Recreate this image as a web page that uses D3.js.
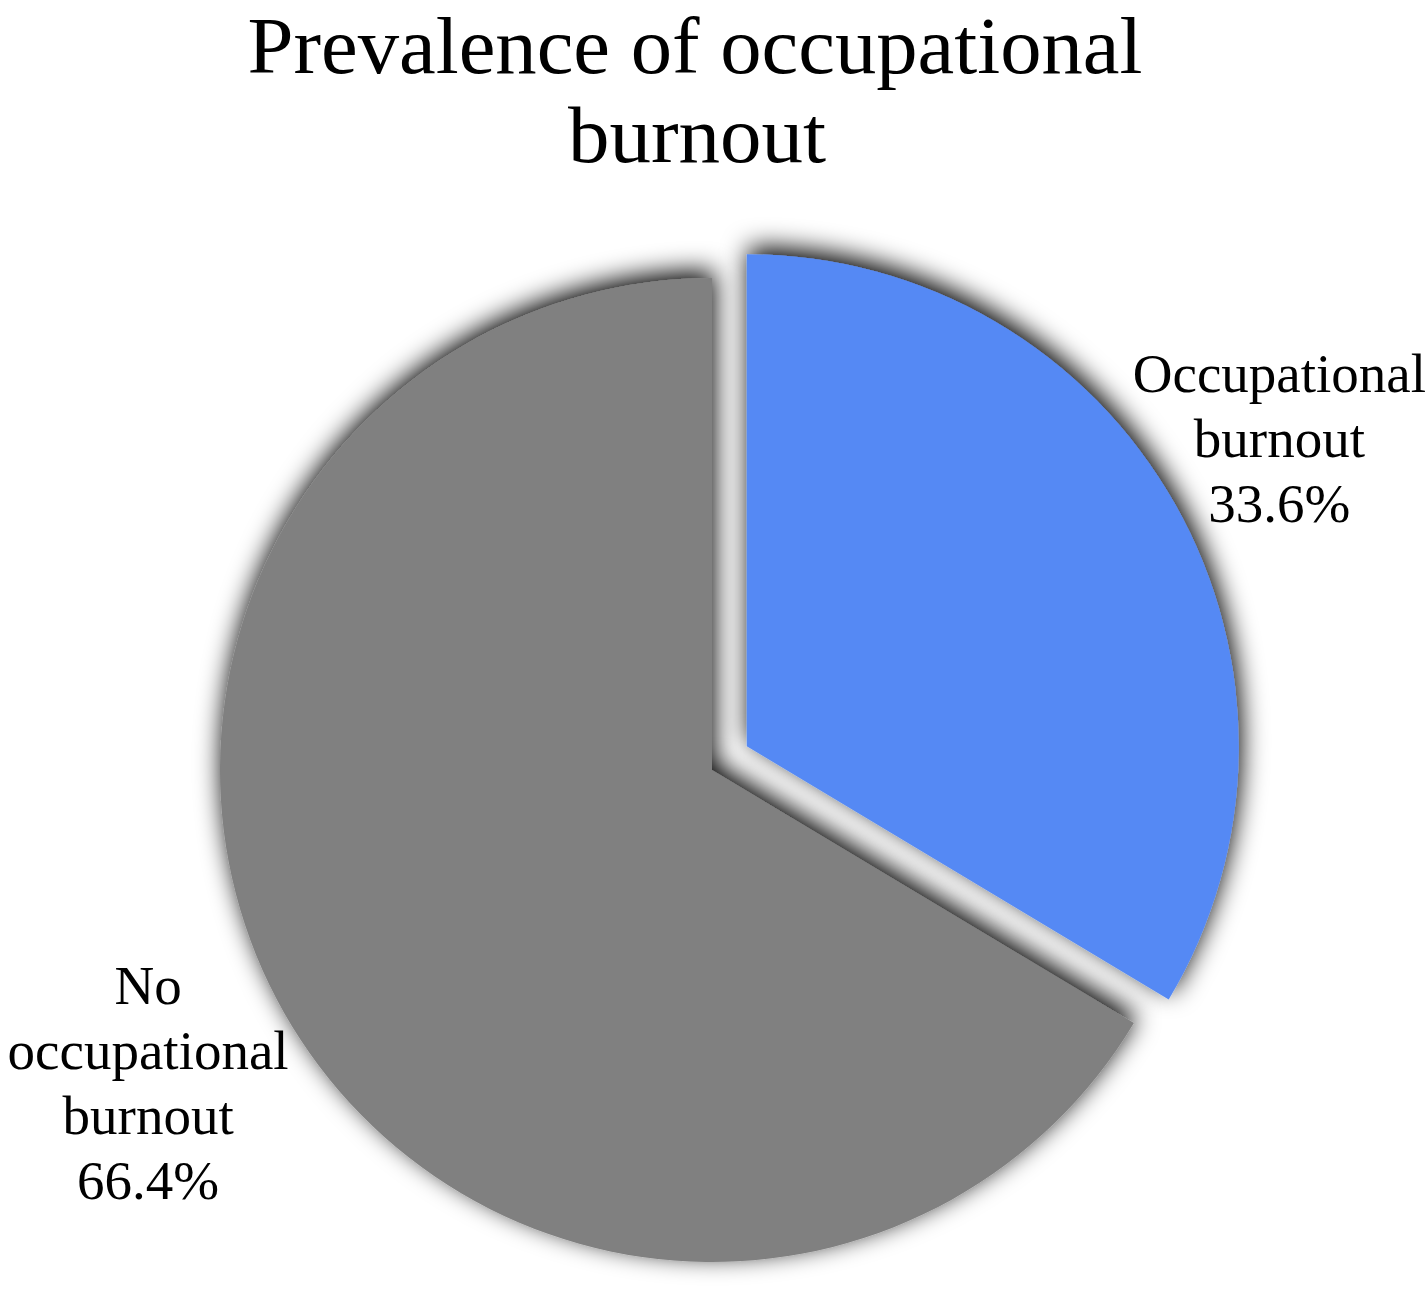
<!DOCTYPE html>
<html>
<head>
<meta charset="utf-8">
<script src="https://cdn.jsdelivr.net/npm/d3@7"></script>
<style>
  body { margin: 0; background: #fff; }
  text { font-family: "Liberation Serif", "Times New Roman", serif; fill: #000; }
</style>
</head>
<body>
<script>
const categories = ["Occupational burnout", "No occupational burnout"];
const labelLines = [["Occupational", "burnout", "33.6%"], ["No", "occupational", "burnout", "66.4%"]];
const values = [33.6, 66.4];
const colors = ["#5589f4", "#808080"];

const chart = {
    width: 1427,
    height: 1292,
    cx: 712,
    cy: 770,
    radius: 492,
    explode: 40,
    labelRadius: [612, 648],
    lineHeight: 65
}

let svg = d3.select("body")
    .append("svg")
    .attr("width", chart.width)
    .attr("height", chart.height);

// soft dark halo behind the slices
let defs = svg.append("defs");
let filter = defs.append("filter")
    .attr("id", "shadow")
    .attr("x", "-20%").attr("y", "-20%")
    .attr("width", "140%").attr("height", "140%");
filter.append("feGaussianBlur")
    .attr("in", "SourceAlpha")
    .attr("stdDeviation", 13)
    .attr("result", "blur");
filter.append("feOffset")
    .attr("in", "blur")
    .attr("dx", 2)
    .attr("dy", -7)
    .attr("result", "off");
filter.append("feComponentTransfer")
    .attr("in", "off")
    .attr("result", "dark")
    .append("feFuncA")
    .attr("type", "linear")
    .attr("slope", 1.0);
let merge = filter.append("feMerge");
merge.append("feMergeNode").attr("in", "dark");
merge.append("feMergeNode").attr("in", "SourceGraphic");

svg.append("text")
    .attr("x", 695)
    .attr("y", 73)
    .attr("text-anchor", "middle")
    .attr("textLength", 895)
    .attr("lengthAdjust", "spacingAndGlyphs")
    .style("font-size", "80px")
    .text("Prevalence of occupational");
svg.append("text")
    .attr("x", 697)
    .attr("y", 162)
    .attr("text-anchor", "middle")
    .attr("textLength", 258)
    .attr("lengthAdjust", "spacingAndGlyphs")
    .style("font-size", "80px")
    .text("burnout");

const pie = d3.pie().sort(null).value(d => d);
const arcs = pie(values);
const arc = d3.arc().innerRadius(0).outerRadius(chart.radius);

// the small slice is pulled out along its middle angle
function shift(d) {
    if (d.index !== 0) return [0, 0];
    const mid = (d.startAngle + d.endAngle) / 2;
    return [chart.explode * Math.sin(mid), -chart.explode * Math.cos(mid) - 4];
}

let slices = svg.append("g")
    .attr("transform", "translate(" + chart.cx + "," + chart.cy + ")");

// draw the big slice first so the exploded one sits on top
slices.selectAll("path")
    .data(arcs.slice().reverse())
    .enter()
    .append("path")
    .attr("d", arc)
    .attr("fill", d => colors[d.index])
    .attr("filter", "url(#shadow)")
    .attr("transform", d => "translate(" + shift(d) + ")");

let labels = slices.selectAll("g.label")
    .data(arcs)
    .enter()
    .append("g")
    .attr("class", "label")
    .attr("transform", d => {
        const mid = (d.startAngle + d.endAngle) / 2;
        const r = chart.labelRadius[d.index];
        const s = shift(d);
        return "translate(" + [r * Math.sin(mid) + s[0], -r * Math.cos(mid) + s[1]] + ")";
    });

labels.append("text")
    .attr("text-anchor", "middle")
    .style("font-size", "55px")
    .selectAll("tspan")
    .data(d => labelLines[d.index].map((t, i, a) => ({t: t, i: i, n: a.length})))
    .enter()
    .append("tspan")
    .attr("x", 0)
    .attr("y", d => (d.i - (d.n - 1) / 2) * chart.lineHeight + 12)
    .text(d => d.t);
</script>
</body>
</html>
